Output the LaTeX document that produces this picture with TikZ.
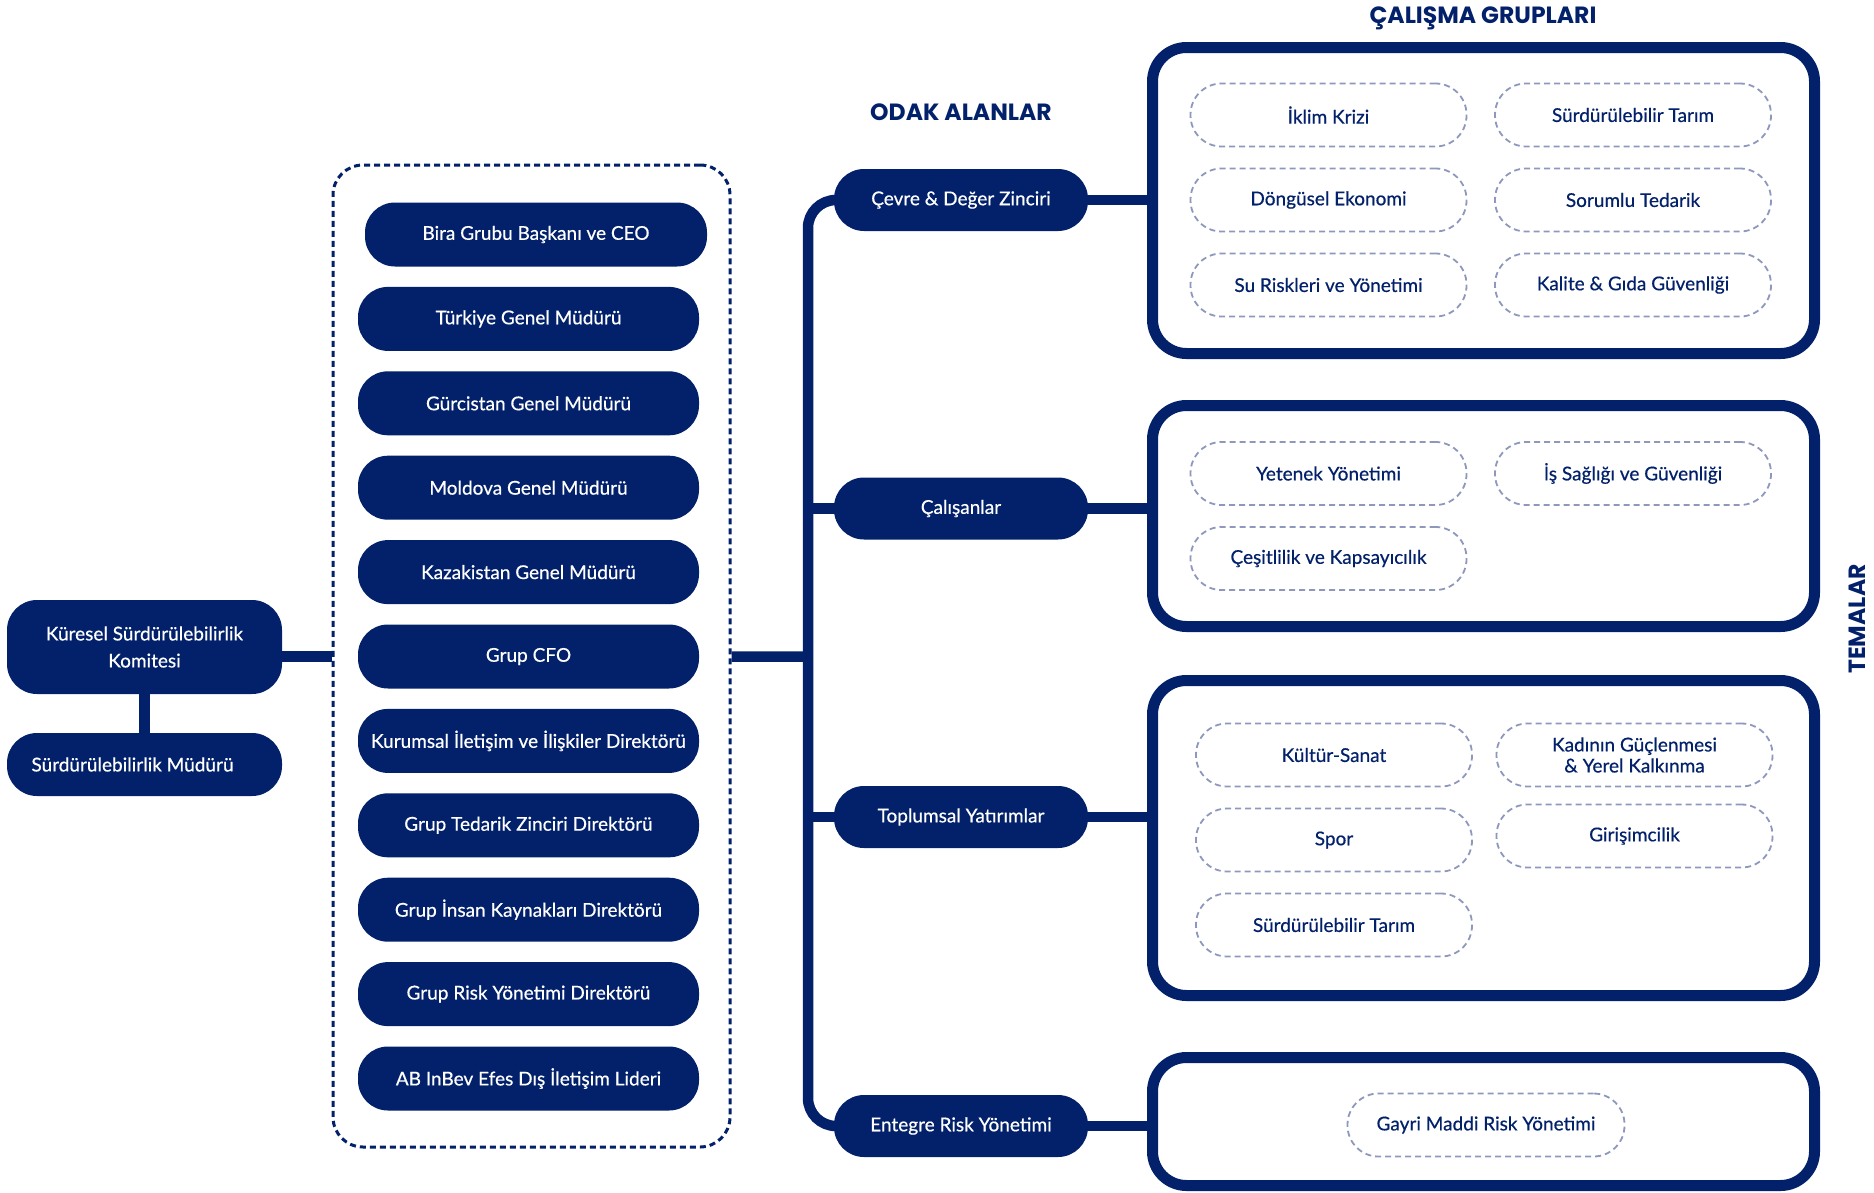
\documentclass[tikz,border=0pt]{standalone}
\usepackage{fontspec}
\setmainfont{Lato}[FakeBold=0.5]
\newfontfamily\titlefont{Poppins}
\definecolor{navy}{HTML}{02216A}
\definecolor{pillc}{HTML}{8E98BC}
\pgfdeclarelayer{bg}
\pgfsetlayers{bg,main}
\begin{document}
\begin{tikzpicture}[x=1pt,y=-1pt,
  navybox/.style={fill=navy,text=white,rounded corners=30pt,inner sep=0pt,align=center,minimum height=63pt,font=\fontsize{19}{27}\selectfont},
  pill/.style={draw=pillc,line width=1.8pt,dash pattern=on 6pt off 4pt,rounded corners=31pt,minimum width=276pt,minimum height=63pt,inner sep=0pt,align=center,text=navy,font=\fontsize{19}{21}\selectfont},
  themebox/.style={draw=navy,line width=11pt,rounded corners=34pt,minimum width=662pt,inner sep=0pt},
  dotbox/.style={draw=navy,line width=3pt,dash pattern=on 6pt off 4pt,rounded corners=30pt,inner sep=0pt},
  conn/.style={draw=navy,line width=10.5pt},
  title/.style={text=navy,font=\titlefont\bfseries\fontsize{23.5}{26}\selectfont}
]
\useasboundingbox (0,0) rectangle (1874,1192);
\clip (0,0) rectangle (1874,1192);

% titles
\node[title] (odak) at (961,112) {ODAK ALANLAR};
\node[title] (calg) at (1483,18) {ÇALIŞMA GRUPLARI};
\node[title,rotate=90] (tem) at (1857,619) {TEMALAR};

% left committee
\node[navybox,minimum width=275pt,minimum height=94pt] (kur) at (144.5,647) {Küresel Sürdürülebilirlik\\Komitesi};
\node[navybox,minimum width=275pt] (mud) at (144.5,764.5) {\hspace*{-24pt}Sürdürülebilirlik Müdürü};

% dotted group
\node[dotbox,minimum width=397pt,minimum height=982pt] (grp) at (531.5,656) {};
\node[navybox,minimum width=342pt,minimum height=64pt] (m0) at (536,234.5) {Bira Grubu Başkanı ve CEO};
\foreach \t [count=\i] in {Türkiye Genel Müdürü,Gürcistan Genel Müdürü,Moldova Genel Müdürü,Kazakistan Genel Müdürü,Grup CFO,Kurumsal İletişim ve İlişkiler Direktörü,Grup Tedarik Zinciri Direktörü,Grup İnsan Kaynakları Direktörü,Grup Risk Yönetimi Direktörü,AB InBev Efes Dış İletişim Lideri}
  \node[navybox,minimum width=341pt,minimum height=64pt] (m\i) at (528.5,234.5+\i*84.4) {\t};

% focus areas
\node[navybox,minimum width=254pt,minimum height=62pt] (f1) at (961,200) {Çevre \& Değer Zinciri};
\node[navybox,minimum width=254pt,minimum height=62pt] (f2) at (961,508.5) {Çalışanlar};
\node[navybox,minimum width=254pt,minimum height=62pt] (f3) at (961,817) {Toplumsal Yatırımlar};
\node[navybox,minimum width=254pt,minimum height=62pt] (f4) at (961,1126) {Entegre Risk Yönetimi};

% theme boxes
\node[themebox,minimum height=306pt] (t1) at (1483.5,200.5) {};
\node[themebox,minimum height=221pt] (t2) at (1483.5,516) {};
\node[themebox,minimum height=315pt] (t3) at (1483.5,838) {};
\node[themebox,minimum height=128pt] (t4) at (1483.5,1121.5) {};

% working groups
\node[pill] (p11) at (1328.5,115) {İklim Krizi};
\node[pill] (p12) at (1633,115) {Sürdürülebilir Tarım};
\node[pill] (p13) at (1328.5,200) {Döngüsel Ekonomi};
\node[pill] (p14) at (1633,200) {Sorumlu Tedarik};
\node[pill] (p15) at (1328.5,285) {Su Riskleri ve Yönetimi};
\node[pill] (p16) at (1633,285) {Kalite \& Gıda Güvenliği};

\node[pill] (p21) at (1328.5,473.5) {Yetenek Yönetimi};
\node[pill] (p22) at (1633,473.5) {İş Sağlığı ve Güvenliği};
\node[pill] (p23) at (1328.5,558.5) {Çeşitlilik ve Kapsayıcılık};

\node[pill] (p31) at (1334,755) {Kültür-Sanat};
\node[pill] (p32) at (1634.5,755) {Kadının Güçlenmesi\\\& Yerel Kalkınma};
\node[pill] (p33) at (1334,840) {Spor};
\node[pill] (p34) at (1634.5,836) {Girişimcilik};
\node[pill] (p35) at (1334,925) {Sürdürülebilir Tarım};

\node[pill,minimum width=277pt] (p41) at (1486,1125) {Gayri Maddi Risk Yönetimi};

% connectors
\coordinate (trunkmid) at (808,656.5);
\begin{pgfonlayer}{bg}
\draw[conn] (kur) -- (mud);
\draw[conn] (kur.east |- m5) -- (grp.west |- m5);
\draw[conn] (grp.east |- m5) -- (trunkmid);
\draw[conn,rounded corners=28pt] (f1.center) -| (trunkmid) |- (f4.center);
\draw[conn] (f2.center) -- (f2 -| trunkmid);
\draw[conn] (f3.center) -- (f3 -| trunkmid);
\draw[conn] (f1.center) -- (f1 -| t1.west);
\draw[conn] (f2.center) -- (f2 -| t2.west);
\draw[conn] (f3.center) -- (f3 -| t3.west);
\draw[conn] (f4.center) -- (f4 -| t4.west);
\end{pgfonlayer}
\end{tikzpicture}
\end{document}
